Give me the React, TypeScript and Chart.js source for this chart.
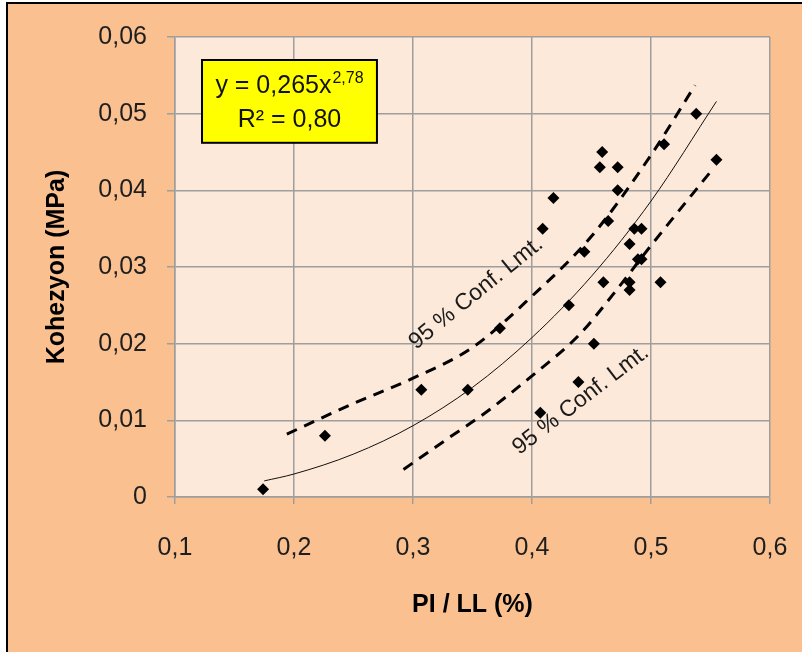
import React, { useEffect, useRef } from 'react';
import { Chart, registerables } from 'chart.js';

Chart.register(...registerables);

// Measured points: PI/LL vs Kohezyon (MPa)
const pointX = [0.174, 0.226, 0.307, 0.346, 0.373, 0.407, 0.409, 0.418, 0.431, 0.439, 0.444, 0.452, 0.457, 0.459, 0.46, 0.464, 0.472, 0.472, 0.482, 0.482, 0.482, 0.486, 0.492, 0.489, 0.492, 0.508, 0.511, 0.538, 0.555];
const pointY = [0.001, 0.008, 0.014, 0.014, 0.022, 0.011, 0.035, 0.039, 0.025, 0.015, 0.032, 0.020, 0.043, 0.045, 0.028, 0.036, 0.043, 0.040, 0.033, 0.028, 0.027, 0.035, 0.035, 0.031, 0.031, 0.028, 0.046, 0.050, 0.044];

// Trend curve
const fitX = [0.175, 0.2, 0.25, 0.3, 0.35, 0.4, 0.45, 0.5, 0.555];
const fitY = [0.0021, 0.0030, 0.0056, 0.0093, 0.0143, 0.0208, 0.0288, 0.0386, 0.0516];

// Upper 95% confidence limit
const upperX = [0.194, 0.25, 0.3, 0.35, 0.4, 0.45, 0.5, 0.537];
const upperY = [0.0082, 0.0122, 0.0155, 0.0195, 0.0262, 0.034, 0.0446, 0.0537];

// Lower 95% confidence limit
const lowerX = [0.292, 0.33, 0.36, 0.4, 0.44, 0.47, 0.5, 0.552];
const lowerY = [0.0036, 0.0077, 0.0109, 0.0158, 0.0212, 0.0268, 0.0328, 0.0428];

const xTickLabels = ['0,1', '0,2', '0,3', '0,4', '0,5', '0,6'];
const yTickLabels = ['0', '0,01', '0,02', '0,03', '0,04', '0,05', '0,06'];

const xTitle = 'PI / LL (%)';
const yTitle = 'Kohezyon (MPa)';
const eqMain = 'y = 0,265x';
const eqSup = '2,78';
const eqR2 = 'R² = 0,80';
const confLabel = '95 % Conf. Lmt.';

const FONT = '"Liberation Sans", Arial, sans-serif';
const OUTER_BG = '#FAC090';
const PLOT_BG = '#FDE9D9';
const GRID = '#9E9E9E';
const TEXT = '#1e1e1e';

const toPts = (xs: number[], ys: number[]) => xs.map((x, i) => ({ x, y: ys[i] }));

const backgroundPlugin = {
  id: 'bgFrame',
  beforeDraw(chart: any) {
    const { ctx, width, height, chartArea } = chart;
    ctx.save();
    ctx.fillStyle = '#ffffff';
    ctx.fillRect(0, 0, width, height);
    ctx.fillStyle = '#000000';
    ctx.fillRect(6, 2, width, height);
    ctx.fillStyle = OUTER_BG;
    ctx.fillRect(8, 4, width, height);
    ctx.fillStyle = PLOT_BG;
    ctx.fillRect(chartArea.left, chartArea.top, chartArea.right - chartArea.left, chartArea.bottom - chartArea.top);
    ctx.restore();
  },
};

const annotationPlugin = {
  id: 'annots',
  afterDatasetsDraw(chart: any) {
    const { ctx } = chart;
    const xs = chart.scales.x;
    const ys = chart.scales.y;
    ctx.save();

    // Equation box
    const bl = xs.getPixelForValue(0.1227);
    const br = xs.getPixelForValue(0.2697);
    const bt = ys.getPixelForValue(0.0570);
    const bb = ys.getPixelForValue(0.0462);
    ctx.fillStyle = '#FFFF00';
    ctx.fillRect(bl, bt, br - bl, bb - bt);
    ctx.strokeStyle = '#000';
    ctx.lineWidth = 2;
    ctx.strokeRect(bl, bt, br - bl, bb - bt);

    const cx = (bl + br) / 2;
    ctx.fillStyle = '#111';
    ctx.textBaseline = 'alphabetic';
    ctx.textAlign = 'left';
    ctx.font = `25px ${FONT}`;
    const wMain = ctx.measureText(eqMain).width;
    ctx.font = `16px ${FONT}`;
    const wSup = ctx.measureText(eqSup).width;
    const startX = cx - (wMain + wSup + 1) / 2;
    ctx.font = `25px ${FONT}`;
    ctx.fillText(eqMain, startX, bt + 33);
    ctx.font = `16px ${FONT}`;
    ctx.fillText(eqSup, startX + wMain + 1, bt + 23);
    ctx.font = `25px ${FONT}`;
    ctx.textAlign = 'center';
    ctx.fillText(eqR2, cx, bt + 67);

    // Confidence labels
    const drawRot = (vx: number, vy: number, angDeg: number) => {
      const px = xs.getPixelForValue(vx);
      const py = ys.getPixelForValue(vy);
      ctx.save();
      ctx.translate(px, py);
      ctx.rotate((angDeg * Math.PI) / 180);
      ctx.font = `23px ${FONT}`;
      ctx.fillStyle = '#1a1a1a';
      ctx.textAlign = 'center';
      ctx.textBaseline = 'middle';
      ctx.fillText(confLabel, 0, 0);
      ctx.restore();
    };
    drawRot(0.353, 0.0266, -39);
    drawRot(0.441, 0.01265, -37.5);

    ctx.restore();
  },
};

export default function App() {
  const ref = useRef<HTMLCanvasElement | null>(null);

  useEffect(() => {
    if (!ref.current) return;
    const chart = new Chart(ref.current, {
      type: 'scatter',
      data: {
        datasets: [
          {
            data: toPts(pointX, pointY),
            pointStyle: 'rectRot',
            pointRadius: 6,
            backgroundColor: '#000',
            borderColor: '#000',
            borderWidth: 0,
            showLine: false,
          },
          {
            data: toPts(fitX, fitY),
            showLine: true,
            borderColor: '#111',
            borderWidth: 1,
            pointRadius: 0,
            cubicInterpolationMode: 'monotone',
            fill: false,
          },
          {
            data: toPts(upperX, upperY),
            showLine: true,
            borderColor: '#000',
            borderWidth: 3,
            borderDash: [11, 8],
            pointRadius: 0,
            cubicInterpolationMode: 'monotone',
            fill: false,
          },
          {
            data: toPts(lowerX, lowerY),
            showLine: true,
            borderColor: '#000',
            borderWidth: 3,
            borderDash: [11, 8],
            pointRadius: 0,
            cubicInterpolationMode: 'monotone',
            fill: false,
          },
        ],
      } as any,
      options: {
        animation: false,
        responsive: false,
        maintainAspectRatio: false,
        layout: { padding: { left: 0, right: 32, top: 37, bottom: 0 } },
        plugins: { legend: { display: false }, tooltip: { enabled: false } },
        scales: {
          x: {
            type: 'linear',
            min: 0.1,
            max: 0.6,
            ticks: {
              stepSize: 0.1,
              callback: (_v: any, i: number) => xTickLabels[i],
              font: { family: FONT, size: 25 },
              color: TEXT,
              padding: 29,
            },
            grid: { color: GRID, lineWidth: 1.5, tickLength: 7, tickColor: GRID },
            border: { color: GRID, width: 1.5 },
            title: {
              display: true,
              text: xTitle,
              font: { family: FONT, size: 25, weight: 'bold' },
              color: '#000',
              padding: { top: 0, bottom: 32 },
            },
            afterFit: (s: any) => {
              s.height = 155;
              s.paddingLeft = 0;
              s.paddingRight = 0;
            },
          },
          y: {
            type: 'linear',
            min: 0,
            max: 0.06,
            ticks: {
              stepSize: 0.01,
              callback: (_v: any, i: number) => yTickLabels[i],
              font: { family: FONT, size: 25 },
              color: TEXT,
              padding: 20,
            },
            grid: { color: GRID, lineWidth: 1.5, tickLength: 8, tickColor: GRID },
            border: { color: GRID, width: 1.5 },
            title: {
              display: true,
              text: yTitle,
              font: { family: FONT, size: 25, weight: 'bold' },
              color: '#000',
              padding: { top: 42, bottom: 0 },
            },
            afterFit: (s: any) => {
              s.width = 175;
              s.paddingTop = 0;
              s.paddingBottom = 0;
            },
          },
        },
      } as any,
      plugins: [backgroundPlugin, annotationPlugin],
    });
    return () => chart.destroy();
  }, []);

  return (
    <div style={{ position: 'fixed', left: 0, top: 0, width: 802, height: 652, overflow: 'hidden' }}>
      <canvas ref={ref} width={802} height={652} style={{ display: 'block', width: 802, height: 652 }} />
    </div>
  );
}
